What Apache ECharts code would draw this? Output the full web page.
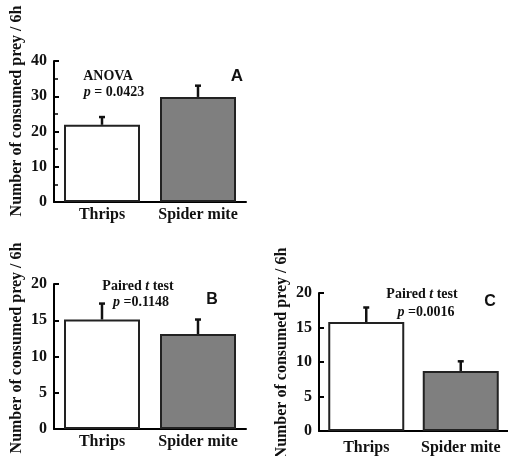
<!DOCTYPE html>
<html><head><meta charset="utf-8">
<script src="https://cdn.jsdelivr.net/npm/echarts@6/dist/echarts.min.js"></script>
<style>html,body{margin:0;padding:0;background:#fff}#c{width:508px;height:456px}</style>
</head><body><div id="c"></div>
<script>
var categories = ['Thrips', 'Spider mite'];
var meansA = [21.9, 29.8];
var errA = [2.2, 3.2];
var meansB = [15.1, 13.1];
var errB = [2.2, 2.0];
var meansC = [15.8, 8.7];
var errC = [2.1, 1.4];
var yMaxA = 40, yIntA = 10;
var yMaxBC = 20, yIntBC = 5;
var yLabel = 'Number of consumed prey / 6h';

var serif = '"Liberation Serif", "Times New Roman", serif';
var sans = '"Liberation Sans", Arial, sans-serif';
var barColors = ['#ffffff', '#7f7f7f'];

var grids = [
  {left: 54, top: 61, width: 192, height: 141},
  {left: 54, top: 284, width: 192, height: 145},
  {left: 319, top: 293, width: 193, height: 141}
];
function xAx(i, margin) {
  return {type: 'category', gridIndex: i, data: categories,
    axisLine: {lineStyle: {color: '#000', width: 2}},
    axisTick: {alignWithLabel: true, length: 3, lineStyle: {color: '#000', width: 2}},
    axisLabel: {color: '#111', fontFamily: serif, fontWeight: 'bold', fontSize: 16, margin: margin, interval: 0}};
}
function yAx(i, max, interval, minor) {
  return {type: 'value', gridIndex: i, min: 0, max: max, interval: interval,
    splitLine: {show: false},
    axisLine: {show: true, lineStyle: {color: '#000', width: 2}},
    axisTick: {show: true, inside: true, length: 5, lineStyle: {color: '#000', width: 2}},
    minorTick: {show: minor, splitNumber: 2, length: 4, lineStyle: {color: '#000', width: 1.5}},
    axisLabel: {color: '#111', fontFamily: serif, fontWeight: 'bold', fontSize: 16, margin: 7}};
}
function barSeries(i, means) {
  return {type: 'bar', xAxisIndex: i, yAxisIndex: i, barWidth: 76,
    data: means.map(function (v, k) {
      return {value: v, itemStyle: {color: barColors[k], borderColor: '#222', borderWidth: 2}};
    }), z: 2};
}
function errSeries(i, means, errs) {
  return {type: 'custom', xAxisIndex: i, yAxisIndex: i, z: 3,
    data: means.map(function (v, k) { return [k, v, v + errs[k]]; }),
    renderItem: function (params, api) {
      var p0 = api.coord([api.value(0), api.value(1)]);
      var p1 = api.coord([api.value(0), api.value(2)]);
      var st = {stroke: '#111', lineWidth: 2.5};
      return {type: 'group', children: [
        {type: 'line', shape: {x1: p0[0], y1: p0[1], x2: p1[0], y2: p1[1]}, style: st},
        {type: 'line', shape: {x1: p1[0] - 3, y1: p1[1], x2: p1[0] + 3, y2: p1[1]}, style: st}
      ]};
    }};
}
function txt(x, y, rich, text) {
  return {type: 'text', x: x, y: y, style: {text: text, rich: rich, align: 'center', verticalAlign: 'middle',
    fontFamily: serif, fontWeight: 'bold', fontSize: 14, fill: '#111'}};
}
var rich = {i: {fontFamily: serif, fontStyle: 'italic', fontWeight: 'bold', fontSize: 14, fill: '#111'}};
function ylab(x, y) {
  return {type: 'text', x: x, y: y, rotation: Math.PI / 2,
    style: {text: yLabel, align: 'center', verticalAlign: 'middle', fontFamily: serif, fontWeight: 'bold', fontSize: 16, fill: '#111'}};
}
function letter(x, y, t, size) {
  return {type: 'text', x: x, y: y, style: {text: t, align: 'center', verticalAlign: 'middle', fontFamily: sans, fontWeight: 'bold', fontSize: size, fill: '#111'}};
}

var chart = echarts.init(document.getElementById('c'), null, {renderer: 'canvas'});
chart.setOption({
  backgroundColor: '#fff',
  animation: false,
  grid: grids,
  xAxis: [xAx(0, 5), xAx(1, 5), xAx(2, 9)],
  yAxis: [yAx(0, yMaxA, yIntA, true), yAx(1, yMaxBC, yIntBC, false), yAx(2, yMaxBC, yIntBC, false)],
  series: [
    barSeries(0, meansA), errSeries(0, meansA, errA),
    barSeries(1, meansB), errSeries(1, meansB, errB),
    barSeries(2, meansC), errSeries(2, meansC, errC)
  ],
  graphic: [
    ylab(17, 111), ylab(17, 348), ylab(282, 353),
    txt(108, 76, rich, 'ANOVA'),
    txt(114, 92, rich, '{i|p} = 0.0423'),
    letter(237, 76, 'A', 17),
    txt(138, 286, rich, 'Paired {i|t} test'),
    txt(141, 302, rich, '{i|p} =0.1148'),
    letter(212, 300, 'B', 16),
    txt(422, 294, rich, 'Paired {i|t} test'),
    txt(426, 312, rich, '{i|p} =0.0016'),
    letter(490, 302, 'C', 16)
  ]
});
</script>
</body></html>
